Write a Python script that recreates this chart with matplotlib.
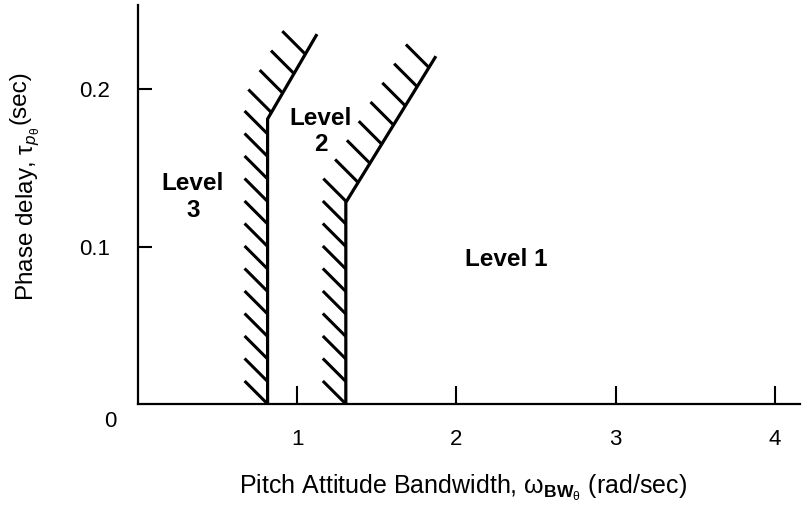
import numpy as np
import matplotlib
matplotlib.use('Agg')
import matplotlib.pyplot as plt

plt.rcParams['font.family'] = ['Liberation Sans', 'DejaVu Sans']
plt.rcParams['mathtext.fontset'] = 'custom'
plt.rcParams['mathtext.rm'] = 'Liberation Sans'
plt.rcParams['mathtext.it'] = 'Liberation Sans:italic'
plt.rcParams['mathtext.bf'] = 'Liberation Sans:bold'

# boundary lines (bandwidth rad/sec, phase delay sec)
level3_bw = [0.815, 0.815, 1.12]
level3_tau = [0.0, 0.181, 0.234]
level2_bw = [1.306, 1.306, 1.866]
level2_tau = [0.0, 0.128, 0.220]

x_ticks = [1, 2, 3, 4]
y_ticks = [0.1, 0.2]
region_labels = ['Level\n3', 'Level\n2', 'Level 1']
region_pos = [(0.347, 0.1314), (1.15, 0.173), (2.312, 0.092)]

W, H = 802, 512


def hatch(ax, xs, ys, spacing=22.5, length=23):
    # short strokes on the left side of a boundary, laid out in pixel space
    tr = ax.transData
    pts = tr.transform(np.column_stack([xs, ys]))
    seg = np.diff(pts, axis=0)
    seglen = np.hypot(seg[:, 0], seg[:, 1])
    cum = np.concatenate([[0], np.cumsum(seglen)])
    for s in np.arange(0, cum[-1] - 8, spacing):
        i = min(np.searchsorted(cum, s, side='right') - 1, len(seg) - 1)
        p = pts[i] + seg[i] * (s - cum[i]) / seglen[i]
        q = p + np.array([-length, length])
        d = tr.inverted().transform([p, q])
        ax.plot(d[:, 0], d[:, 1], color='black', lw=2.2, solid_capstyle='butt')


fig = plt.figure(figsize=(W / 100, H / 100), dpi=100)
ax = fig.add_axes([0.1717, 0.211, 0.826, 0.779])
ax.set_xlim(0, 4.157)
ax.set_ylim(0, 0.2533)

for xs, ys in [(level3_bw, level3_tau), (level2_bw, level2_tau)]:
    ax.plot(xs, ys, color='black', lw=2.3, solid_joinstyle='miter')
    hatch(ax, xs, ys)

for txt, (x, y) in zip(region_labels, region_pos):
    ax.text(x, y, txt, ha='center', va='center', fontsize=17.5,
            fontweight='bold', linespacing=1.2)

for side in ['top', 'right']:
    ax.spines[side].set_visible(False)
for side in ['left', 'bottom']:
    ax.spines[side].set_linewidth(1.6)

ax.set_xticks(x_ticks)
ax.set_xticklabels([str(t) for t in x_ticks])
ax.set_yticks(y_ticks)
ax.set_yticklabels([str(t) for t in y_ticks])
ax.tick_params(axis='x', direction='in', length=13, width=1.5, pad=18,
               labelsize=16)
ax.tick_params(axis='y', direction='in', length=10, width=1.5, pad=20,
               labelsize=16)
ax.text(-0.174, -0.0114, '0', ha='center', va='center', fontsize=16)

ax.set_xlabel(r'Pitch Attitude Bandwidth, $\mathrm{\omega}_{\mathbf{BW}_{\mathrm{\theta}}}$ (rad/sec)',
              fontsize=18)
ax.xaxis.set_label_coords(0.491, -0.172)

# y label: "(sec)" is full size and raised after the subscripted tau
t1 = fig.text(33 / W, (H - 320) / H,
              r'Phase delay, $\mathrm{\tau}_{p_{\mathrm{\theta}}}$',
              rotation=90, rotation_mode='anchor', ha='left', va='baseline',
              fontsize=17.5)
r = fig.canvas.get_renderer()
bb = t1.get_window_extent(r)
t2 = fig.text(26 / W, (bb.y1 + 3) / H, '(sec)', rotation=90,
              rotation_mode='anchor', ha='left', va='baseline', fontsize=17.5)
top = t2.get_window_extent(r).y1
shift = (H - 186) - ((H - 320) + top) / 2
for t in (t1, t2):
    x, y = t.get_position()
    t.set_position((x, y + shift / H))

fig.savefig('out.png', dpi=100)
